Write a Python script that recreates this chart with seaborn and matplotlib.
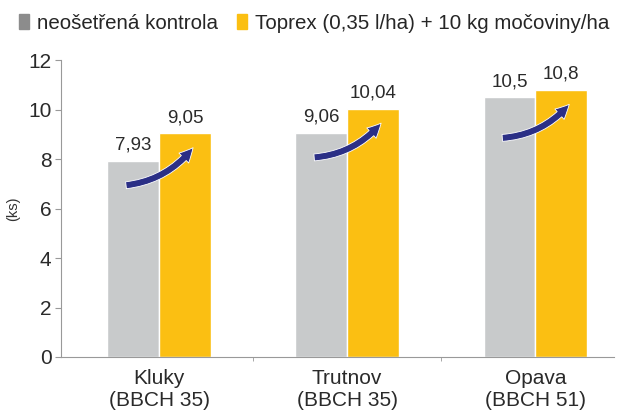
import pandas as pd
import seaborn as sns
import matplotlib.pyplot as plt

# Data
locations = ['Kluky\n(BBCH 35)', 'Trutnov\n(BBCH 35)', 'Opava\n(BBCH 51)']
series_names = ['neošetřená kontrola', 'Toprex (0,35 l/ha) + 10 kg močoviny/ha']
control = [7.93, 9.06, 10.5]
treated = [9.05, 10.04, 10.8]
value_labels = [['7,93', '9,06', '10,5'], ['9,05', '10,04', '10,8']]

data = pd.DataFrame({
    'Lokalita': locations * 2,
    'Varianta': [series_names[0]] * 3 + [series_names[1]] * 3,
    'ks': control + treated,
})

sns.set_style('white')
plt.rcParams['font.family'] = ['Liberation Sans', 'DejaVu Sans']

gray = '#c8cacb'
yellow = '#fbbf12'
palette = {series_names[0]: gray, series_names[1]: yellow}

fig = plt.figure(figsize=(6.18, 4.12), dpi=100)
ax = fig.add_axes([0.099, 0.1335, 0.895, 0.7205])

sns.barplot(data=data, x='Lokalita', y='ks', hue='Varianta', palette=palette,
            width=0.55, saturation=1, ax=ax, legend=False)

# value labels above bars
for i, container in enumerate(ax.containers):
    ax.bar_label(container, labels=value_labels[i], padding=5, fontsize=13.5, color='#2a2a2a')

# curved arrows from control to treated (arrow start sits lower below the gray bar top)
start_drop = [1.0, 1.0, 1.65]
for i in range(3):
    ax.annotate('', xy=(i + 0.19, treated[i] - 0.5), xytext=(i - 0.19, control[i] - start_drop[i]),
                arrowprops=dict(arrowstyle='simple,head_length=1.0,head_width=1.0,tail_width=0.5',
                                connectionstyle='arc3,rad=0.22', facecolor='#2b2f86',
                                edgecolor='white', lw=0.6))

ax.set_xlim(-0.52, 2.42)
ax.set_ylim(0, 12)
ax.set_yticks(range(0, 13, 2))
ax.set_xticks([0.5, 1.5], minor=True)
ax.set_xlabel('')
ax.set_ylabel('(ks)', fontsize=10.5, color='#333333')
ax.yaxis.set_label_coords(-0.074, 0.5)

for side in ['top', 'right']:
    ax.spines[side].set_visible(False)
for side in ['left', 'bottom']:
    ax.spines[side].set_color('#999999')
    ax.spines[side].set_linewidth(0.8)

ax.tick_params(axis='y', which='major', left=True, length=4, color='#999999',
               labelsize=15, labelcolor='#2a2a2a', pad=3)
ax.tick_params(axis='x', which='major', bottom=False, labelsize=15, labelcolor='#2a2a2a', pad=5)
ax.tick_params(axis='x', which='minor', bottom=True, length=3, color='#999999')

# legend at the top
handles = [plt.Rectangle((0, 0), 1, 1, color='#8c8c8c'),
           plt.Rectangle((0, 0), 1, 1, color=yellow)]
fig.legend(handles, series_names, loc='upper left', bbox_to_anchor=(0.0, 1.012), ncol=2,
           frameon=False, fontsize=14.8, handlelength=0.5, handleheight=0.8,
           handletextpad=0.4, columnspacing=0.9)

fig.savefig('out.png', dpi=100)
